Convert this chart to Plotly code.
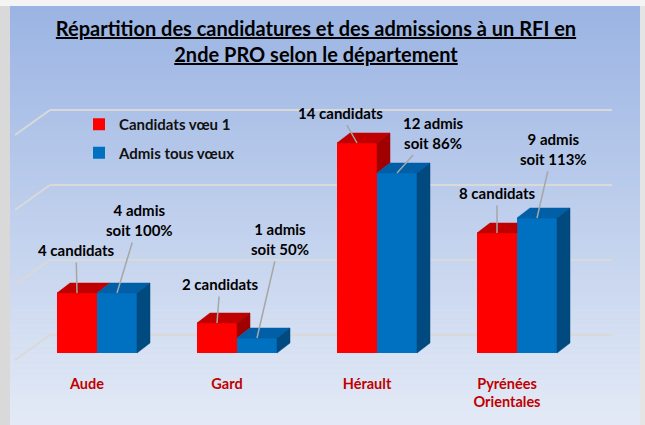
import plotly.graph_objects as go

# ---- data -------------------------------------------------------------
departements = ["Aude", "Gard", "Hérault", "Pyrénées<br>Orientales"]
candidats_voeu1 = [4, 2, 14, 8]
admis_tous_voeux = [4, 1, 12, 9]
gridline_values = [0, 5, 10, 15]

# ---- geometry / styles ------------------------------------------------
W, H = 645, 425
MB = 55                      # bottom margin holding the category labels
PX_PER_CAT = 140.0           # pixels per category step
PX_PER_UNIT = 15.0           # pixels per value unit
CAT0_PX = 97.0               # pixel x of the first category centre
ZERO_PX = 353.0              # pixel y of value 0 (front of bars)

plot_h = H - MB
x_lo = -CAT0_PX / PX_PER_CAT
x_hi = x_lo + W / PX_PER_CAT
y_hi = ZERO_PX / PX_PER_UNIT
y_lo = y_hi - plot_h / PX_PER_UNIT

def dxu(px):
    return px / PX_PER_CAT

def dyu(px):
    return px / PX_PER_UNIT

BAR_W = dxu(40)              # width of one bar
DEPTH_X, DEPTH_Y = dxu(13), dyu(10)     # bar depth projection
WALL_X, WALL_Y = dxu(-35), dyu(-25)     # side wall slant
WALL_SHIFT = dyu(18)                     # back wall is behind the bars
GRID_X0, GRID_X1 = dxu(50 - CAT0_PX), dxu(612 - CAT0_PX)

RED, RED_TOP, RED_SIDE = "#ff0000", "#c00000", "#a00000"
BLUE, BLUE_TOP, BLUE_SIDE = "#0070c0", "#005fa6", "#004a80"
FONT = "Lato"
LABEL_COLOR = "#c00000"

fig = go.Figure()

# front faces of the bars
fig.add_trace(go.Bar(
    x=[i - BAR_W / 2 for i in range(len(departements))], y=candidats_voeu1,
    width=BAR_W, marker=dict(color=RED, line=dict(width=0)),
    name="Candidats vœu 1", legendgroup="c", hoverinfo="skip"))
fig.add_trace(go.Bar(
    x=[i + BAR_W / 2 for i in range(len(departements))], y=admis_tous_voeux,
    width=BAR_W, marker=dict(color=BLUE, line=dict(width=0)),
    name="Admis tous vœux", legendgroup="a", hoverinfo="skip"))


def face(xs, ys, color):
    fig.add_trace(go.Scatter(
        x=xs + [xs[0]], y=ys + [ys[0]], mode="lines", fill="toself",
        fillcolor=color, line=dict(color=color, width=0.5),
        showlegend=False, hoverinfo="skip"))


# top and side faces (red first, blue drawn over it)
for i, (c, a) in enumerate(zip(candidats_voeu1, admis_tous_voeux)):
    left, mid, right = i - BAR_W, i, i + BAR_W
    # red top face, cut by the blue bar when that one is taller
    if a > c:
        face([left, mid, mid, left + DEPTH_X],
             [c, c, c + DEPTH_Y, c + DEPTH_Y], RED_TOP)
    else:
        face([left, mid, mid + DEPTH_X, left + DEPTH_X],
             [c, c, c + DEPTH_Y, c + DEPTH_Y], RED_TOP)
    # visible part of the red side face above the blue bar
    if c > a:
        face([mid, mid + DEPTH_X, mid + DEPTH_X, mid],
             [a, a + DEPTH_Y, c + DEPTH_Y, c], RED_SIDE)
    # blue top and side faces
    face([mid, right, right + DEPTH_X, mid + DEPTH_X],
         [a, a, a + DEPTH_Y, a + DEPTH_Y], BLUE_TOP)
    face([right, right + DEPTH_X, right + DEPTH_X, right],
         [0, DEPTH_Y, a + DEPTH_Y, a], BLUE_SIDE)

# ---- background panel (vertical gradient) -------------------------------
shapes = []
shapes.append(dict(type="rect", xref="paper", yref="paper", layer="below",
                   x0=0, x1=10 / W, y0=(plot_h - H) / plot_h,
                   y1=(plot_h - 6) / plot_h,
                   fillcolor="#d9d9d9", line=dict(width=0)))
shapes.append(dict(type="rect", xref="paper", yref="paper", layer="below",
                   x0=640 / W, x1=1, y0=(plot_h - H) / plot_h,
                   y1=(plot_h - 6) / plot_h,
                   fillcolor="#e4e4e4", line=dict(width=0)))
top_rgb = (155, 180, 227)
bot_rgb = (227, 234, 246)
n_strips = 84
y_start, y_end = 6.0, float(H)
for k in range(n_strips):
    t = k / (n_strips - 1)
    col = "rgb(%d,%d,%d)" % tuple(round(a + (b - a) * t) for a, b in zip(top_rgb, bot_rgb))
    py0 = y_start + (y_end - y_start) * k / n_strips
    py1 = y_start + (y_end - y_start) * (k + 1) / n_strips + 0.6
    shapes.append(dict(type="rect", xref="paper", yref="paper", layer="below",
                       x0=10 / W, x1=640 / W,
                       y0=(plot_h - py1) / plot_h, y1=(plot_h - py0) / plot_h,
                       fillcolor=col, line=dict(width=0)))

# back-wall gridlines with their slanted left-wall continuation
for g in gridline_values:
    yb = g + WALL_SHIFT
    shapes.append(dict(type="line", xref="x", yref="y", layer="below",
                       x0=GRID_X0 + WALL_X, y0=yb + WALL_Y, x1=GRID_X0, y1=yb,
                       line=dict(color="#d9d9d9", width=2)))
    shapes.append(dict(type="line", xref="x", yref="y", layer="below",
                       x0=GRID_X0, y0=yb, x1=GRID_X1, y1=yb,
                       line=dict(color="#d9d9d9", width=2)))

# ---- data labels with leader lines ------------------------------------
cand_offsets = [(-1, -43), (3, -39), (-17, -30), (0, -40)]
admis_offsets = [(22, -73), (23, -99), (36, -40), (16, -69)]
annotations = []
for i, (c, a) in enumerate(zip(candidats_voeu1, admis_tous_voeux)):
    pct = int(100.0 * a / c + 0.5)
    for xv, yv, txt, (ax, ay) in [
        (i - BAR_W / 2, c, "%d candidats" % c, cand_offsets[i]),
        (i + BAR_W / 2, a, "%d admis<br>soit %d%%" % (a, pct), admis_offsets[i]),
    ]:
        annotations.append(dict(
            x=xv, y=yv, xref="x", yref="y", text="<b>%s</b>" % txt,
            showarrow=True, arrowhead=0, arrowwidth=1.5, arrowcolor="#a6a6a6",
            ax=ax, ay=ay, standoff=0, startstandoff=2,
            font=dict(family=FONT, size=15, color="#000000")))

fig.update_layout(
    width=W, height=H, autosize=False,
    margin=dict(l=0, r=0, t=0, b=MB, pad=0),
    paper_bgcolor="#f4f4f4", plot_bgcolor="rgba(0,0,0,0)",
    barmode="overlay", bargap=0,
    title=dict(
        text="Répartition des candidatures et des admissions à un RFI en<br>"
             "2nde PRO selon le département",
        x=316 / W, xanchor="center", xref="container",
        y=1 - 36 / H, yanchor="top", yref="container",
        font=dict(family=FONT, size=20, color="#000000", weight="bold",
                  lineposition="under")),
    xaxis=dict(range=[x_lo, x_hi], showgrid=False, zeroline=False,
               showline=False, ticks="",
               tickvals=[i - dxu(10) for i in range(len(departements))],
               ticktext=departements, ticklabelstandoff=3,
               tickfont=dict(family=FONT, size=14.5, color=LABEL_COLOR,
                             weight="bold"),
               fixedrange=True),
    yaxis=dict(range=[y_lo, y_hi], showgrid=False, zeroline=False,
               showline=False, showticklabels=False, ticks="",
               fixedrange=True),
    legend=dict(x=79 / W, y=(plot_h - 108) / plot_h, xanchor="left",
                yanchor="top", bgcolor="rgba(0,0,0,0)", tracegroupgap=6,
                font=dict(family=FONT, size=15, color="#111111",
                          weight="bold"),
                itemwidth=30),
    shapes=shapes,
    annotations=annotations,
)

fig.write_html("out.html", config={"displayModeBar": False})
